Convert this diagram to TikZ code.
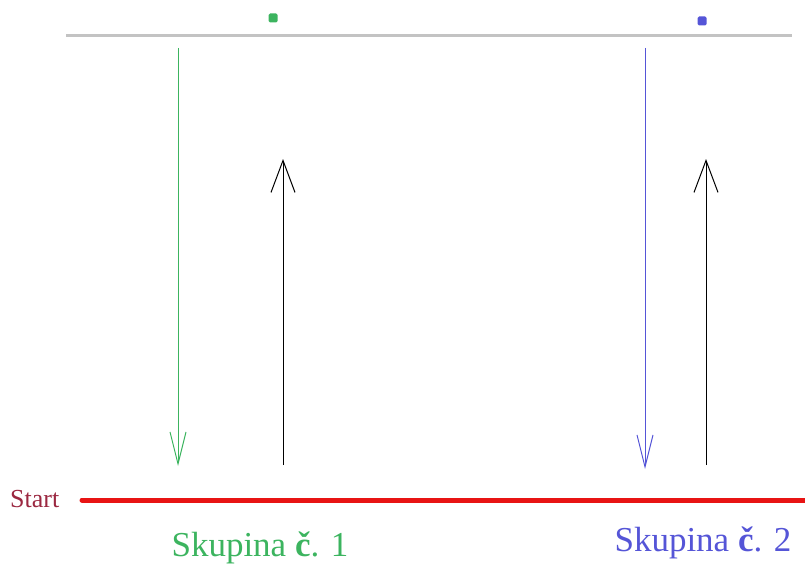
\documentclass[tikz,border=0pt]{standalone}
\usepackage{fontspec}
\setmainfont{Liberation Serif}
\usetikzlibrary{arrows.meta}
\definecolor{grp1}{RGB}{60,180,95}
\definecolor{grp2}{RGB}{85,85,215}
\definecolor{startc}{RGB}{155,40,65}
\definecolor{redline}{RGB}{232,20,20}
\definecolor{topline}{RGB}{195,195,195}
\begin{document}
\begin{tikzpicture}[x=1pt,y=-1pt,
  down1/.style={draw=grp1,line width=1pt,-{Straight Barb[length=32pt,width=16pt]}},
  down2/.style={draw=grp2,line width=1pt,-{Straight Barb[length=32pt,width=16pt]}},
  upblk/.style={draw=black,line width=1pt,-{Straight Barb[length=32pt,width=24pt]}},
  dot/.style={rounded corners=1.5pt,minimum size=9pt,inner sep=0pt},
  lbl/.style={font=\fontsize{35pt}{37pt}\selectfont,inner sep=0pt}]
\useasboundingbox (0,0) rectangle (805,567);
% top line
\coordinate (tl) at (66,36);
\coordinate (tr) at (792,36);
\draw[topline,line width=3pt] (tl) -- (tr);
% dots
\node[dot,fill=grp1] (d1) at (273,18) {};
\node[dot,fill=grp2] (d2) at (702,21) {};
% start line
\node[text=startc,font=\fontsize{26pt}{28pt}\selectfont,inner sep=0pt,anchor=west] (start) at (10,499) {Start};
\coordinate (rl) at (82,500);
\coordinate (rr) at (805,500);
\draw[redline,line width=5pt,line cap=round] (rl) -- (rr);
% arrows group 1
\coordinate (g1a) at (178,48);
\coordinate (g1b) at (178,466);
\draw[down1] (g1a) -- (g1b);
\coordinate (b1a) at (283,465);
\coordinate (b1b) at (283,159);
\draw[upblk] (b1a) -- (b1b);
% arrows group 2
\coordinate (g2a) at (645,48);
\coordinate (g2b) at (645,469);
\draw[down2] (g2a) -- (g2b);
\coordinate (b2a) at (706,465);
\coordinate (b2b) at (706,159);
\draw[upblk] (b2a) -- (b2b);
% labels
\node[lbl,text=grp1] (s1) at (260,548) {Skupina \textbf{č}. 1};
\node[lbl,text=grp2] (s2) at (703,543) {Skupina \textbf{č}. 2};
\end{tikzpicture}
\end{document}
